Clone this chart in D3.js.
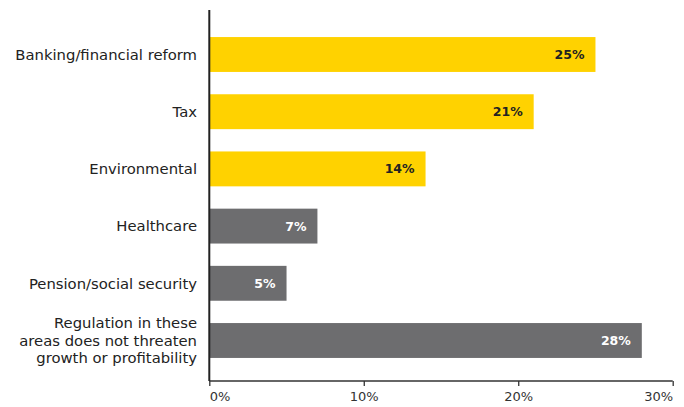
<!DOCTYPE html>
<html>
<head>
<meta charset="utf-8">
<script src="https://cdn.jsdelivr.net/npm/d3@7"></script>
<style>
  html, body { margin: 0; padding: 0; background: #ffffff; }
  svg { display: block; }
</style>
</head>
<body>
<svg id="chart" width="684" height="407"></svg>
<script>
// Areas of regulation seen as a threat to growth or profitability
const categories = [
  ["Banking/financial reform"],
  ["Tax"],
  ["Environmental"],
  ["Healthcare"],
  ["Pension/social security"],
  ["Regulation in these", "areas does not threaten", "growth or profitability"]
];
const values = [25, 21, 14, 7, 5, 28];
const highlighted = [true, true, true, false, false, false];
const tickValues = [0, 10, 20, 30];

const W = 684, H = 407;
const margin = { left: 209.3, right: 11.3, top: 10, bottom: 26 };
const YELLOW = "#ffd200";
const GREY = "#6d6d6f";
const INK = "#222222";
const FONT = "'DejaVu Sans', sans-serif";

const svg = d3.select("#chart");

const x = d3.scaleLinear()
  .domain([0, 30])
  .range([margin.left, W - margin.right]);

const y = d3.scaleBand()
  .domain(d3.range(categories.length))
  .range([25.9, 369.1])
  .paddingInner(0.39)
  .paddingOuter(0.195);

const axisY = H - margin.bottom;

// bars
svg.append("g")
  .selectAll("rect")
  .data(values)
  .join("rect")
  .attr("x", x(0))
  .attr("y", (d, i) => y(i))
  .attr("width", d => x(d) - x(0))
  .attr("height", y.bandwidth())
  .attr("fill", (d, i) => highlighted[i] ? YELLOW : GREY);

// value labels inside bar ends
svg.append("g")
  .selectAll("text")
  .data(values)
  .join("text")
  .attr("x", d => x(d) - 11)
  .attr("y", (d, i) => y(i) + y.bandwidth() / 2)
  .attr("dy", "0.36em")
  .attr("text-anchor", "end")
  .attr("font-family", FONT)
  .attr("font-size", 12.5)
  .attr("font-weight", "bold")
  .attr("fill", (d, i) => highlighted[i] ? INK : "#ffffff")
  .text(d => d + "%");

// category labels
const lineH = 17.5;
const cat = svg.append("g")
  .selectAll("text")
  .data(categories)
  .join("text")
  .attr("x", 197)
  .attr("y", (d, i) => y(i) + y.bandwidth() / 2 - (d.length - 1) * lineH / 2)
  .attr("text-anchor", "end")
  .attr("font-family", FONT)
  .attr("font-size", 14.8)
  .attr("fill", INK);
cat.selectAll("tspan")
  .data(d => d)
  .join("tspan")
  .attr("x", 197)
  .attr("dy", (d, j) => j === 0 ? "0.36em" : lineH)
  .text(d => d);

// x axis
const xAxis = svg.append("g")
  .attr("transform", `translate(0,${axisY})`)
  .call(d3.axisBottom(x)
    .tickValues(tickValues)
    .tickSize(5)
    .tickPadding(6)
    .tickFormat(d => d + "%"));
xAxis.select(".domain")
  .attr("d", `M${x(0)},0H${x(30)}`)
  .attr("stroke", "#333")
  .attr("stroke-width", 1.3);
xAxis.selectAll(".tick line").attr("stroke", "#333").attr("stroke-width", 1.3);
xAxis.selectAll(".tick text")
  .attr("font-family", FONT)
  .attr("font-size", 13)
  .attr("fill", "#333")
  .attr("text-anchor", (d, i, n) => i === 0 ? "start" : i === n.length - 1 ? "end" : "middle");

// vertical baseline
svg.append("line")
  .attr("x1", x(0)).attr("x2", x(0))
  .attr("y1", margin.top).attr("y2", axisY)
  .attr("stroke", "#222")
  .attr("stroke-width", 2);
</script>
</body>
</html>
